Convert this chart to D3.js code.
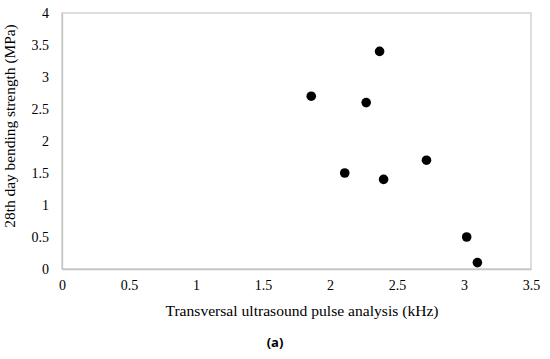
<!DOCTYPE html>
<html>
<head>
<meta charset="utf-8">
<script src="https://cdn.jsdelivr.net/npm/d3@7"></script>
<style>
body { margin: 0; background: #fff; }
text { font-family: "Liberation Serif", "Times New Roman", serif; fill: #000; }
</style>
</head>
<body>
<script>
// transversal pulse (kHz) vs 28th day bending strength (MPa)
var pulseKHz = [1.86, 2.37, 2.27, 2.11, 2.40, 2.72, 3.02, 3.10];
var strengthMPa = [2.7, 3.4, 2.6, 1.5, 1.4, 1.7, 0.5, 0.1];
var xTicks = [0, 0.5, 1, 1.5, 2, 2.5, 3, 3.5];
var yTicks = [0, 0.5, 1, 1.5, 2, 2.5, 3, 3.5, 4];

var W = 550, H = 359;
var plot = { left: 62, top: 13, right: 531, bottom: 269 };

var svg = d3.select('body').append('svg')
	.attr('width', W)
	.attr('height', H);

var x = d3.scaleLinear().domain([0, 3.5]).range([plot.left, plot.right]);
var y = d3.scaleLinear().domain([0, 4]).range([plot.bottom, plot.top]);

// plot frame
svg.append('rect')
	.attr('x', plot.left)
	.attr('y', plot.top)
	.attr('width', plot.right - plot.left)
	.attr('height', plot.bottom - plot.top)
	.attr('fill', 'none')
	.attr('stroke', '#cccccc')
	.attr('stroke-width', 1.3);

var xAxis = svg.append('g')
	.attr('transform', 'translate(0,' + plot.bottom + ')')
	.call(d3.axisBottom(x).tickValues(xTicks).tickSize(0).tickPadding(11).tickFormat(d3.format('')))
	.attr('font-family', 'Liberation Serif')
	.attr('font-size', 14);
xAxis.select('.domain').attr('stroke', '#c4c4c4').attr('stroke-width', 1.6);

var yAxis = svg.append('g')
	.attr('transform', 'translate(' + plot.left + ',0)')
	.call(d3.axisLeft(y).tickValues(yTicks).tickSize(0).tickPadding(13).tickFormat(d3.format('')))
	.attr('font-family', 'Liberation Serif')
	.attr('font-size', 14);
yAxis.select('.domain').attr('stroke', '#c4c4c4').attr('stroke-width', 1.3);

// points
svg.append('g').selectAll('circle')
	.data(pulseKHz).enter()
	.append('circle')
	.attr('cx', function(d) { return x(d); })
	.attr('cy', function(d, i) { return y(strengthMPa[i]); })
	.attr('r', 4.8)
	.attr('fill', '#000');

// axis titles
svg.append('text')
	.attr('x', 302)
	.attr('y', 316)
	.attr('text-anchor', 'middle')
	.style('font-size', '15.6px')
	.text('Transversal ultrasound pulse analysis (kHz)');

svg.append('text')
	.attr('transform', 'translate(15,126) rotate(-90)')
	.attr('text-anchor', 'middle')
	.style('font-size', '15.4px')
	.text('28th day bending strength (MPa)');

svg.append('text')
	.attr('x', 275)
	.attr('y', 347)
	.attr('text-anchor', 'middle')
	.style('font-family', '"Open Sans", "DejaVu Sans", sans-serif')
	.style('font-weight', 'bold')
	.style('font-size', '13px')
	.text('(a)');
</script>
</body>
</html>
